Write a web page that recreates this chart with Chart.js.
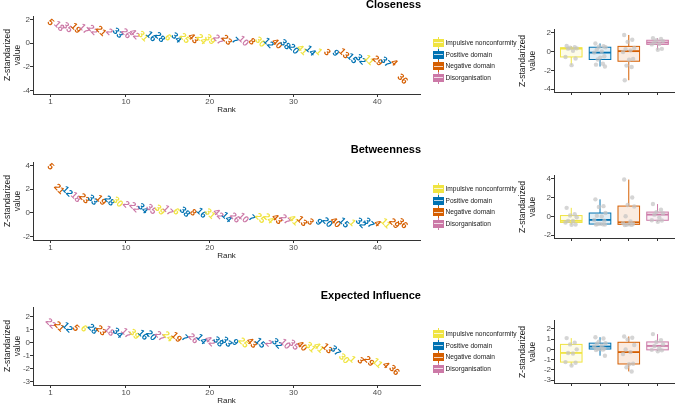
<!DOCTYPE html>
<html>
<head>
<meta charset="utf-8">
<script src="https://cdn.jsdelivr.net/npm/chart.js@4.4.1/dist/chart.umd.min.js"></script>
<style>
  html, body { margin: 0; padding: 0; background: #fff; }
  body { width: 677px; height: 405px; position: relative; overflow: hidden; font-family: "Liberation Sans", Arial, sans-serif; }
  canvas { position: absolute; }
  .title { position: absolute; width: 220px; left: 201px; text-align: right; font-weight: bold; font-size: 11px; line-height: 13px; color: #000; }
  .legend { position: absolute; left: 433px; }
  .item { position: relative; height: 11.6px; width: 130px; }
  .wh { position: absolute; left: 5px; top: 0; width: 1px; height: 11.6px; }
  .kbox { position: absolute; left: 0; top: 1.8px; width: 11px; height: 8px; box-sizing: border-box; border: 1px solid; }
  .kmed { position: absolute; left: 1px; top: 5.3px; width: 9px; height: 1px; background: rgba(255,255,255,0.75); }
  .lab { position: absolute; left: 12.5px; top: 0; line-height: 11.6px; font-size: 6.6px; white-space: nowrap; color: #1a1a1a; }
</style>
</head>
<body>
<canvas id="rankC" width="430" height="116" style="left:0;top:0"></canvas>
<canvas id="rankB" width="430" height="116" style="left:0;top:146px"></canvas>
<canvas id="rankE" width="430" height="116" style="left:0;top:291px"></canvas>
<canvas id="boxC" width="172" height="73" style="left:505px;top:25px"></canvas>
<canvas id="boxB" width="172" height="73" style="left:505px;top:171px"></canvas>
<canvas id="boxE" width="172" height="73" style="left:505px;top:316px"></canvas>
<div class="title" style="top:-2px">Closeness</div>
<div class="title" style="top:143px">Betweenness</div>
<div class="title" style="top:289px">Expected Influence</div>
<script>
// groups and their nodes
const groups = ["Impulsive nonconformity", "Positive domain", "Negative domain", "Disorganisation"];
const groupColors = ["#F0E442", "#0072B2", "#D55E00", "#CC79A7"];
const impulsiveNodes = [1, 6, 11, 24, 25, 30, 31, 39, 41];
const positiveNodes = [7, 9, 12, 14, 15, 16, 20, 28, 32, 33, 34, 37, 38];
const negativeNodes = [3, 4, 5, 8, 13, 19, 21, 23, 29, 36, 40, 43];
const disorgNodes = [2, 10, 17, 18, 22, 26, 27, 35, 42];
const nodeCount = 43;

// nodes in rank order, with their z-standardized values
const closenessNodes = [5,18,35,19,17,22,21,2,33,26,42,31,16,28,6,34,25,43,24,39,27,23,7,10,8,30,12,40,38,20,41,14,1,3,9,13,15,32,11,29,37,4,36];
const closenessValues = [1.75,1.42,1.32,1.25,1.19,1.10,1.02,0.95,0.85,0.80,0.75,0.58,0.55,0.50,0.45,0.45,0.40,0.38,0.33,0.30,0.28,0.25,0.20,0.18,0.12,0.08,0.00,-0.05,-0.12,-0.50,-0.58,-0.65,-0.75,-0.80,-0.85,-0.88,-1.30,-1.40,-1.45,-1.50,-1.60,-1.65,-3.05];

const betweennessNodes = [5,21,12,18,23,33,19,28,30,2,22,34,35,39,17,6,38,8,16,31,42,14,26,10,7,25,24,43,27,41,13,3,9,20,40,15,1,32,37,4,11,29,36];
const betweennessValues = [3.90,2.00,1.80,1.30,1.20,1.08,1.05,1.00,0.90,0.70,0.45,0.35,0.30,0.22,0.18,0.08,0.05,0.00,-0.02,-0.10,-0.12,-0.38,-0.42,-0.44,-0.46,-0.48,-0.50,-0.55,-0.58,-0.65,-0.72,-0.78,-0.80,-0.82,-0.84,-0.85,-0.86,-0.87,-0.88,-0.90,-0.90,-0.91,-0.92];

const influenceNodes = [22,21,12,5,6,28,23,18,34,17,39,16,20,27,24,19,7,26,14,42,38,33,9,25,43,15,2,32,10,35,40,31,41,13,37,30,1,3,29,11,4,36];
const influenceValues = [1.48,1.25,1.18,1.12,1.09,1.05,0.95,0.90,0.75,0.72,0.65,0.60,0.55,0.50,0.48,0.42,0.35,0.33,0.27,0.10,0.07,0.05,0.03,0.00,-0.02,-0.03,-0.05,-0.07,-0.10,-0.18,-0.27,-0.35,-0.40,-0.45,-0.62,-1.24,-1.30,-1.40,-1.45,-1.58,-1.75,-2.15];

// axis limits and ticks
const closenessLimits = [-4, 2];
const betweennessLimits = [-2, 4];
const influenceLimits = [-3, 2.5];
const closenessTicks = [-4, -2, 0, 2];
const betweennessTicks = [-2, 0, 2, 4];
const influenceTicks = [-3, -2, -1, 0, 1, 2];
const rankTicks = [1, 10, 20, 30, 40];

const FONT = '"Liberation Sans", Arial, sans-serif';
const groupNodes = [impulsiveNodes, positiveNodes, negativeNodes, disorgNodes];
const groupOf = n => groupNodes.findIndex(list => list.includes(n));
// horizontal spread for the grey points
const JITTER = [-0.16, 0.12, -0.04, 0.19, -0.11, 0.06, -0.2, 0.15, 0.01, -0.08, 0.1, -0.14, 0.17];

const axisLine = { display: true, color: "#333", width: 1 };
const tickMarks = { display: true, drawOnChartArea: false, drawTicks: true, tickLength: 3, color: "#333" };
const tickFont = { size: 8, family: FONT };

const nodeLabels = {
    id: "nodeLabels",
    afterDatasetsDraw(chart, args, opts) {
        const ctx = chart.ctx;
        const meta = chart.getDatasetMeta(0);
        ctx.save();
        ctx.font = "bold 9.5px " + FONT;
        ctx.textAlign = "center";
        ctx.textBaseline = "middle";
        meta.data.forEach((pt, i) => {
            const node = opts.nodes[i];
            ctx.fillStyle = groupColors[groupOf(node)];
            ctx.save();
            ctx.translate(pt.x, pt.y);
            ctx.rotate(Math.PI / 4);
            ctx.fillText(String(node), 0, 0);
            ctx.restore();
        });
        ctx.restore();
    }
};

function quantile(sorted, p) {
    const h = (sorted.length - 1) * p;
    const lo = Math.floor(h);
    const hi = Math.min(lo + 1, sorted.length - 1);
    return sorted[lo] + (h - lo) * (sorted[hi] - sorted[lo]);
}

const boxes = {
    id: "boxes",
    beforeDatasetsDraw(chart, args, opts) {
        const ctx = chart.ctx;
        const xs = chart.scales.x, ys = chart.scales.y;
        opts.byGroup.forEach((vals, gi) => {
            const s = vals.slice().sort((a, b) => a - b);
            const q1 = quantile(s, 0.25), med = quantile(s, 0.5), q3 = quantile(s, 0.75);
            const iqr = q3 - q1;
            const inside = s.filter(v => v >= q1 - 1.5 * iqr && v <= q3 + 1.5 * iqr);
            const lo = inside[0], hi = inside[inside.length - 1];
            const c = groupColors[gi];
            const x0 = xs.getPixelForValue(gi + 1 - 0.375), x1 = xs.getPixelForValue(gi + 1 + 0.375);
            const xc = xs.getPixelForValue(gi + 1);
            ctx.save();
            ctx.strokeStyle = c;
            ctx.lineWidth = 1;
            ctx.beginPath();
            ctx.moveTo(xc, ys.getPixelForValue(q3)); ctx.lineTo(xc, ys.getPixelForValue(hi));
            ctx.moveTo(xc, ys.getPixelForValue(q1)); ctx.lineTo(xc, ys.getPixelForValue(lo));
            ctx.stroke();
            const yTop = ys.getPixelForValue(q3), yBot = ys.getPixelForValue(q1);
            ctx.fillStyle = "#fff";
            ctx.fillRect(x0, yTop, x1 - x0, yBot - yTop);
            ctx.globalAlpha = 0.12;
            ctx.fillStyle = c;
            ctx.fillRect(x0, yTop, x1 - x0, yBot - yTop);
            ctx.globalAlpha = 1;
            ctx.strokeRect(x0, yTop, x1 - x0, yBot - yTop);
            ctx.lineWidth = 1.8;
            ctx.beginPath();
            ctx.moveTo(x0, ys.getPixelForValue(med)); ctx.lineTo(x1, ys.getPixelForValue(med));
            ctx.stroke();
            ctx.fillStyle = c;
            s.filter(v => !inside.includes(v)).forEach(v => {
                ctx.beginPath();
                ctx.arc(xc, ys.getPixelForValue(v), 1.8, 0, Math.PI * 2);
                ctx.fill();
            });
            ctx.restore();
        });
    }
};

function yTitle(padTop) {
    return { display: true, text: ["Z-standarized", "value"], color: "#1a1a1a", font: { size: 8.5, family: FONT, lineHeight: 1.1 }, padding: { top: padTop, bottom: 0 } };
}

function rankChart(id, nodes, values, limits, yTicks) {
    const pad = (limits[1] - limits[0]) * 0.05;
    const xPad = (nodeCount - 1) * 0.05;
    return new Chart(document.getElementById(id), {
        type: "scatter",
        data: { datasets: [{ data: nodes.map((n, i) => ({ x: i + 1, y: values[i] })), pointRadius: 0, pointHoverRadius: 0 }] },
        options: {
            responsive: false, animation: false, events: [],
            layout: { padding: { top: 16, right: 10, left: 0, bottom: 0 } },
            plugins: { legend: { display: false }, tooltip: { enabled: false }, nodeLabels: { nodes: nodes } },
            scales: {
                x: {
                    type: "linear", min: 1 - xPad, max: nodeCount + xPad,
                    afterBuildTicks: s => { s.ticks = rankTicks.map(v => ({ value: v })); },
                    afterFit: s => { s.height = 22; },
                    ticks: { font: tickFont, color: "#4D4D4D", padding: 0, maxRotation: 0, autoSkip: false },
                    grid: tickMarks, border: axisLine,
                    title: { display: true, text: "Rank", color: "#1a1a1a", font: { size: 8, family: FONT }, padding: { top: 0, bottom: 1 } }
                },
                y: {
                    min: limits[0] - pad, max: limits[1] + pad,
                    afterBuildTicks: s => { s.ticks = yTicks.map(v => ({ value: v })); },
                    afterFit: s => { s.width = 33; },
                    ticks: { font: tickFont, color: "#4D4D4D", padding: 0, autoSkip: false },
                    grid: tickMarks, border: axisLine,
                    title: yTitle(3.3)
                }
            }
        },
        plugins: [nodeLabels]
    });
}

function boxChart(id, nodes, values, limits, yTicks) {
    const pad = (limits[1] - limits[0]) * 0.05;
    const byGroup = groups.map((g, gi) => values.filter((v, i) => groupOf(nodes[i]) === gi));
    const points = [];
    byGroup.forEach((vals, gi) => vals.forEach((v, k) => points.push({ x: gi + 1 + JITTER[k % JITTER.length], y: v })));
    return new Chart(document.getElementById(id), {
        type: "scatter",
        data: { datasets: [{ data: points, pointRadius: 2.2, pointHoverRadius: 0, backgroundColor: "rgba(195,195,195,0.7)", borderWidth: 0 }] },
        options: {
            responsive: false, animation: false, events: [],
            layout: { padding: { top: 2, right: 0, left: 0, bottom: 0 } },
            plugins: { legend: { display: false }, tooltip: { enabled: false }, boxes: { byGroup: byGroup } },
            scales: {
                x: {
                    type: "linear", min: 0.4, max: 4.6,
                    afterBuildTicks: s => { s.ticks = groups.map((g, i) => ({ value: i + 1 })); },
                    afterFit: s => { s.height = 6; },
                    ticks: { callback: () => "", padding: 0, autoSkip: false },
                    grid: tickMarks, border: axisLine
                },
                y: {
                    min: limits[0] - pad, max: limits[1] + pad,
                    afterBuildTicks: s => { s.ticks = yTicks.map(v => ({ value: v })); },
                    afterFit: s => { s.width = 49; },
                    ticks: { font: tickFont, color: "#4D4D4D", padding: 0, autoSkip: false },
                    grid: tickMarks, border: axisLine,
                    title: yTitle(13.3)
                }
            }
        },
        plugins: [boxes]
    });
}

function buildLegend(top) {
    const el = document.createElement("div");
    el.className = "legend";
    el.style.top = top + "px";
    groups.forEach((g, gi) => {
        const c = groupColors[gi];
        const item = document.createElement("div");
        item.className = "item";
        item.innerHTML = `<span class="wh" style="background:${c}"></span>` +
            `<span class="kbox" style="background:${c};border-color:${c}"></span>` +
            `<span class="kmed"></span><span class="lab">${g}</span>`;
        el.appendChild(item);
    });
    document.body.appendChild(el);
}

rankChart("rankC", closenessNodes, closenessValues, closenessLimits, closenessTicks);
rankChart("rankB", betweennessNodes, betweennessValues, betweennessLimits, betweennessTicks);
rankChart("rankE", influenceNodes, influenceValues, influenceLimits, influenceTicks);
boxChart("boxC", closenessNodes, closenessValues, closenessLimits, closenessTicks);
boxChart("boxB", betweennessNodes, betweennessValues, betweennessLimits, betweennessTicks);
boxChart("boxE", influenceNodes, influenceValues, influenceLimits, influenceTicks);
buildLegend(37.2);
buildLegend(183.2);
buildLegend(328.2);
</script>
</body>
</html>
